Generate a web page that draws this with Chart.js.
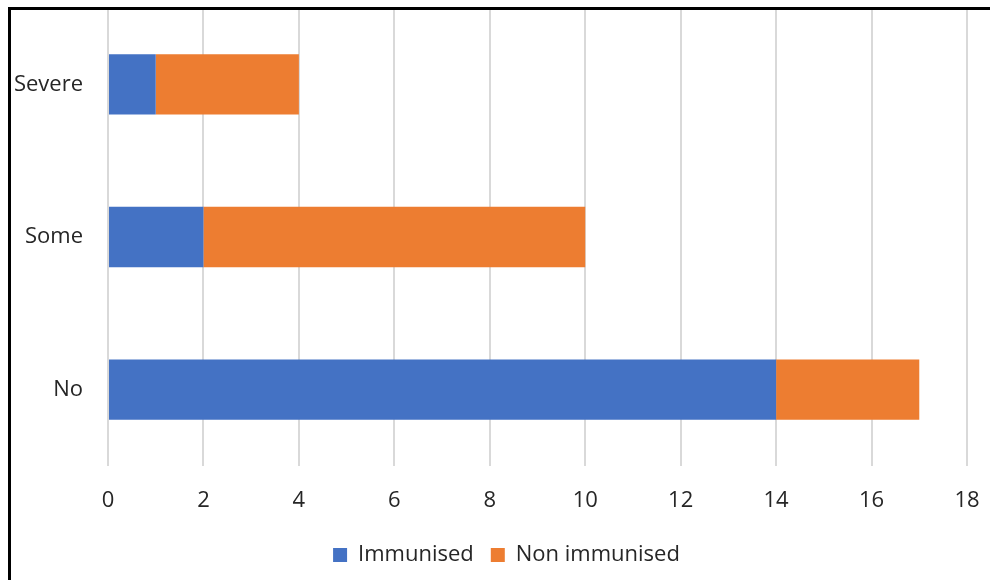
<!DOCTYPE html>
<html lang="en">
<head>
  <meta charset="utf-8">
  <title>Immunisation by severity</title>
  <style>
    html, body { margin: 0; padding: 0; background: #fff; }
    .wrap { position: relative; width: 990px; height: 580px; }
    .frame {
      position: absolute; left: 8px; top: 7px; right: 0; bottom: 0;
      border-left: 3px solid #000; border-top: 3px solid #000;
      pointer-events: none;
    }
  </style>
</head>
<body>
  <div class="wrap">
    <canvas id="chart" width="990" height="580"></canvas>
    <div class="frame"></div>
  </div>

  <script src="https://cdn.jsdelivr.net/npm/chart.js"></script>
  <script>
    const categories = ["Severe", "Some", "No"];
    const immunised = [1, 2, 14];
    const nonImmunised = [3, 8, 3];
    const xTicks = [0, 2, 4, 6, 8, 10, 12, 14, 16, 18];

    const font = { family: "'Open Sans', 'Noto Sans', sans-serif", size: 22 };
    const textColor = "#262626";

    // the original legend is centred under the whole frame, not the padded area
    const legendShift = {
      id: "legendShift",
      beforeDraw(chart) {
        const lg = chart.legend;
        if (!lg) return;
        lg.left = 23;
        lg.right = chart.width;
      }
    };

    new Chart(document.getElementById("chart"), {
      type: "bar",
      data: {
        labels: categories,
        datasets: [{
          label: "Immunised",
          data: immunised,
          backgroundColor: "#4472C4",
          categoryPercentage: 1,
          barPercentage: 0.395
        }, {
          label: "Non immunised",
          data: nonImmunised,
          backgroundColor: "#ED7D31",
          categoryPercentage: 1,
          barPercentage: 0.395
        }]
      },
      options: {
        indexAxis: "y",
        responsive: false,
        animation: false,
        layout: { padding: { left: 0, top: 8, right: 23, bottom: 4 } },
        scales: {
          x: {
            stacked: true,
            min: 0,
            max: 18,
            afterBuildTicks: (s) => { s.ticks = xTicks.map(v => ({ value: v })); },
            afterFit: (s) => { s.height = 61; s.paddingLeft = 0; s.paddingRight = 0; },
            border: { display: false },
            grid: { color: "#d9d9d9", lineWidth: 2, drawTicks: false },
            ticks: { color: textColor, font: font, padding: 22 }
          },
          y: {
            stacked: true,
            afterFit: (s) => { s.width = 108; s.paddingTop = 0; s.paddingBottom = 0; },
            border: { display: false },
            grid: { display: false, drawTicks: false },
            ticks: { color: textColor, font: font, padding: 25 }
          }
        },
        plugins: {
          legend: {
            position: "bottom",
            labels: {
              color: textColor,
              font: font,
              boxWidth: 14,
              boxHeight: 14,
              padding: 17
            }
          },
          tooltip: { enabled: false }
        }
      },
      plugins: [legendShift]
    });
  </script>
</body>
</html>
